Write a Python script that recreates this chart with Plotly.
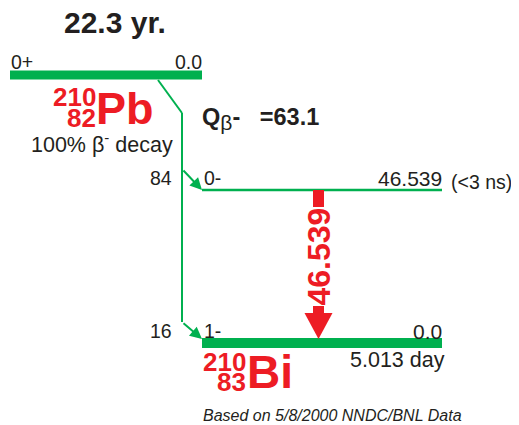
import plotly.graph_objects as go

# ---------------- data ----------------
parent_nuclide = ["210", "82", "Pb"]          # mass, Z, symbol
daughter_nuclide = ["210", "83", "Bi"]
parent_halflife = "22.3 yr."
parent_spin = "0+"
parent_energy = 0.0
parent_decay = "100% β<sup>-</sup> decay"
q_value = 63.1

level_energy = [0.0, 46.539]                 # daughter levels (keV)
level_spin = ["1-", "0-"]
level_halflife = ["5.013 day", "(<3 ns)"]
beta_intensity = [16, 84]                    # % feeding each level
gamma_energy = [46.539]
footnote = "Based on 5/8/2000 NNDC/BNL Data"

# ---------------- styling / layout helpers ----------------
GREEN = "#00B04F"
RED = "#ED1C24"
TXT = "#231F20"
FONT = "Liberation Sans"

W, H = 519, 425
OFF = 8                              # page body margin
X_LEFT, X_RIGHT = 202, 442          # daughter level extent
PX_L, PX_R = 10, 202                # parent level extent
Y_PARENT = 75
Y0 = 343
SCALE = (343 - 190) / 46.539


def y_of(e):
    return Y0 - e * SCALE


fig = go.Figure()
shapes = []
ann = []


def text(x, y, s, size, color=TXT, xa="left", bold=False, italic=False, **kw):
    if bold:
        s = "<b>" + s + "</b>"
    if italic:
        s = "<i>" + s + "</i>"
    ann.append(dict(x=x, y=y, text=s, showarrow=False, xanchor=xa, yanchor="middle",
                    font=dict(family=FONT, size=size, color=color), borderpad=0, **kw))


# parent level
shapes.append(dict(type="rect", x0=PX_L, x1=PX_R, y0=Y_PARENT - 4.5, y1=Y_PARENT + 4.5,
                   fillcolor=GREEN, line_width=0))
text(115, 22, parent_halflife, 30, bold=True, xa="center")
text(PX_L, 61.5, parent_spin, 19.5)
text(PX_R + 1, 61.5, f"{parent_energy:.1f}", 19.5, xa="right")
text(97, 96.5, parent_nuclide[0], 26, color=RED, xa="right", bold=True)
text(97, 117.5, parent_nuclide[1], 26, color=RED, xa="right", bold=True)
text(95, 108, parent_nuclide[2], 45, color=RED, xa="left", bold=True)
text(102, 143, parent_decay, 21.5, xa="center")
text(201, 119,
     f"<b>Q</b><sub><span style='font-size:21px'>β</span></sub><b>- &nbsp;&nbsp;={q_value}</b>", 23.5)

# daughter levels
for e, spin, hl, bi in zip(level_energy, level_spin, level_halflife, beta_intensity):
    y = y_of(e)
    if e == 0:
        shapes.append(dict(type="rect", x0=X_LEFT, x1=X_RIGHT, y0=y - 5, y1=y + 5,
                           fillcolor=GREEN, line_width=0))
        text(X_RIGHT + 4, y + 17, hl, 21.5, xa="right")
    else:
        shapes.append(dict(type="line", x0=X_LEFT, x1=X_RIGHT, y0=y, y1=y,
                           line=dict(color=GREEN, width=2.5)))
        text(X_RIGHT + 8, y - 8, hl, 19.5)
    text(X_LEFT + 1, y - 12, spin, 19.5)
    text(X_RIGHT + 1, y - 12, f"{e:.3f}" if e else f"{e:.1f}", 21, xa="right")
    text(173, y - 12, str(bi), 19.5, xa="right")

# beta feeding path
XV = 182
shapes.append(dict(type="line", x0=158, y0=Y_PARENT + 5, x1=XV, y1=113,
                   line=dict(color=GREEN, width=2)))
shapes.append(dict(type="line", x0=XV, y0=113, x1=XV, y1=y_of(0) - 21,
                   line=dict(color=GREEN, width=2)))
for e in level_energy:
    y = y_of(e)
    yt = y - (4 if e == 0 else 0)
    ann.append(dict(x=X_LEFT, y=yt, ax=XV, ay=y - 21, xref="x", yref="y",
                    axref="x", ayref="y", showarrow=True, arrowhead=2, arrowsize=1.2,
                    arrowwidth=2, arrowcolor=GREEN, text=""))

# gamma transition
for g in gamma_energy:
    xc = 318.5
    ytop = y_of(g)
    ybot = y_of(0) - 5
    shapes.append(dict(type="rect", x0=xc - 5.5, x1=xc + 5.5, y0=ytop, y1=ybot - 24,
                       fillcolor=RED, line_width=0))
    shapes.append(dict(type="path", path=f"M {xc-14},{ybot-25} L {xc+14},{ybot-25} L {xc},{ybot+1} Z",
                       fillcolor=RED, line_width=0))
    text(xc, 257, f"{g:.3f}", 32, color=RED, xa="center", bold=True,
         textangle=-90, bgcolor="white")

# daughter nuclide label
text(247, 361.5, daughter_nuclide[0], 26, color=RED, xa="right", bold=True)
text(247, 381.5, daughter_nuclide[1], 26, color=RED, xa="right", bold=True)
text(246, 372, daughter_nuclide[2], 46, color=RED, xa="left", bold=True)

text(202, 415, footnote, 16, italic=True)

fig.update_layout(
    width=W - OFF, height=H - OFF, margin=dict(l=0, r=0, t=0, b=0),
    paper_bgcolor="white", plot_bgcolor="white",
    xaxis=dict(range=[OFF, W], visible=False, fixedrange=True),
    yaxis=dict(range=[H, OFF], visible=False, fixedrange=True),
    shapes=shapes, annotations=ann, showlegend=False,
)
fig.write_html("out.html")
